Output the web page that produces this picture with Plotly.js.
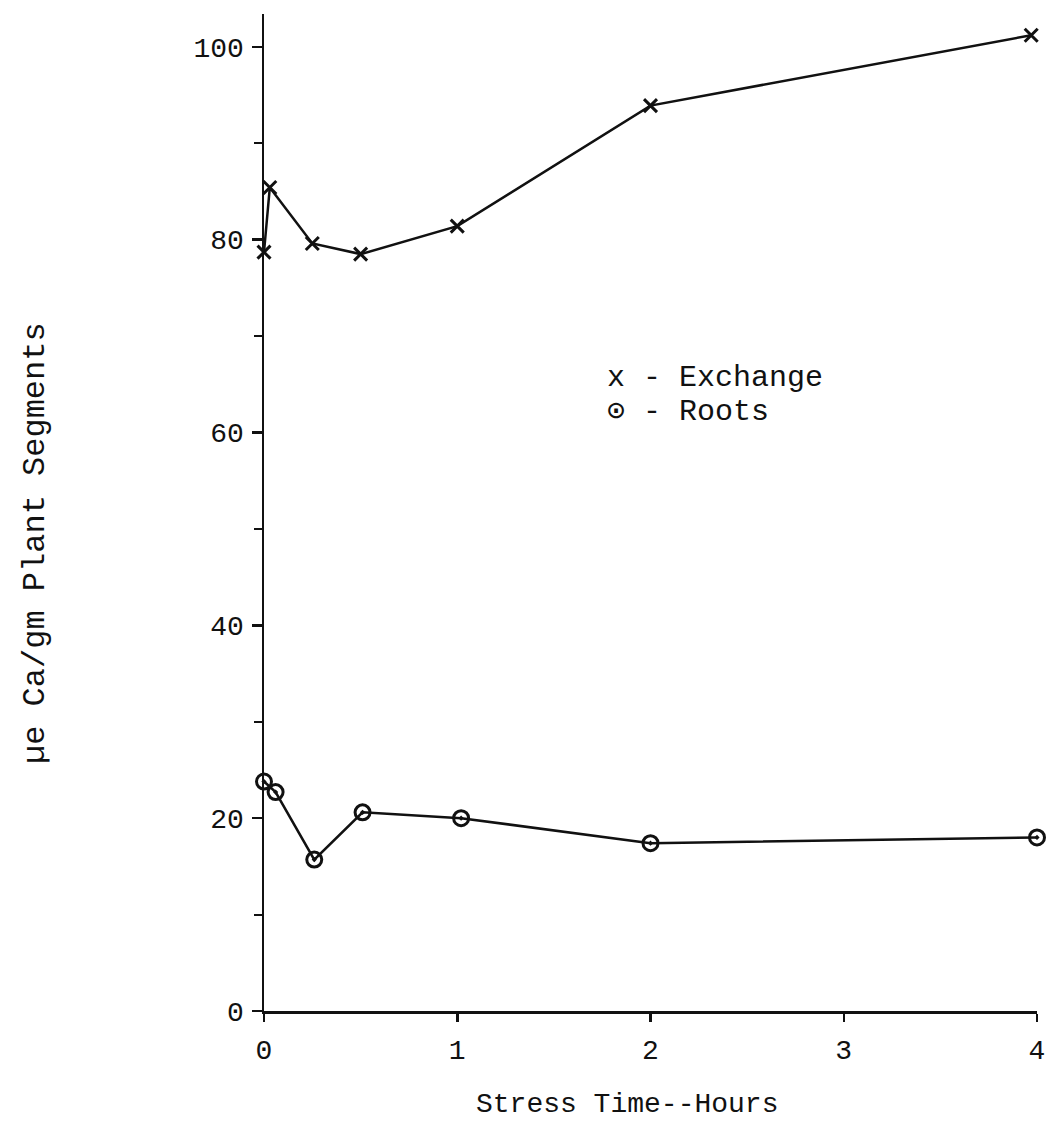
<!DOCTYPE html>
<html>
<head>
<meta charset="utf-8">
<script src="https://cdn.plot.ly/plotly-3.0.1.min.js"></script>
<style>html,body{margin:0;padding:0;background:#fff;}#chart{width:1052px;height:1132px;}</style>
</head>
<body>
<div id="chart"></div>
<script>
// Data
const exchangeHours = [0.0, 0.03, 0.25, 0.5, 1.0, 2.0, 3.97];
const exchangeCa    = [78.7, 85.4, 79.6, 78.5, 81.4, 93.9, 101.2];
const rootsHours    = [0.0, 0.06, 0.26, 0.51, 1.02, 2.0, 4.0];
const rootsCa       = [23.8, 22.7, 15.7, 20.6, 20.0, 17.4, 18.0];
const xTickVals = [0, 1, 2, 3, 4];
const xTickText = ['0', '1', '2', '3', '4'];
const yTickVals = [0, 20, 40, 60, 80, 100];
const yTickText = ['0', '20', '40', '60', '80', '100'];

const mono = 'Liberation Mono, Courier New, monospace';

const traces = [
  {
    x: exchangeHours, y: exchangeCa, mode: 'lines+markers', name: 'Exchange',
    line: {color: '#111', width: 2.5},
    marker: {symbol: 'x-thin-open', size: 13, color: '#111', line: {color: '#111', width: 3}},
    cliponaxis: false
  },
  {
    x: rootsHours, y: rootsCa, mode: 'lines+markers', name: 'Roots',
    line: {color: '#111', width: 2.5},
    marker: {symbol: 'circle-open-dot', size: 15, color: '#111', line: {color: '#111', width: 3}},
    cliponaxis: false
  }
];

const L = 264, R = 15, T = 14, B = 121;
const plotW = 1052 - L - R, plotH = 1132 - T - B;
const px2x = p => (p - L) / plotW;          // pixel -> paper x
const py2y = p => (1132 - B - p) / plotH;   // pixel -> paper y

const layout = {
  width: 1052, height: 1132,
  margin: {l: L, r: R, t: T, b: B},
  paper_bgcolor: '#fff', plot_bgcolor: '#fff',
  showlegend: false,
  font: {family: mono, color: '#111'},
  xaxis: {
    range: [0, 4], tickvals: xTickVals, ticktext: xTickText,
    showgrid: false, zeroline: false, showline: true, linecolor: '#111', linewidth: 2.5,
    ticks: 'outside', ticklen: 8, tickwidth: 2.5, tickcolor: '#111',
    ticklabelstandoff: 4,
    tickfont: {family: mono, size: 28, color: '#111'},
    title: {text: ''}
  },
  yaxis: {
    range: [0, 103.4], tickvals: yTickVals, ticktext: yTickText,
    showgrid: false, zeroline: false, showline: true, linecolor: '#111', linewidth: 2.5,
    ticks: 'outside', ticklen: 10, tickwidth: 2.5, tickcolor: '#111',
    ticklabelstandoff: 2,
    tickfont: {family: mono, size: 28, color: '#111'},
    minor: {tickvals: [10, 30, 50, 70, 90], ticks: 'outside', ticklen: 8, tickwidth: 2, tickcolor: '#111', showgrid: false},
    title: {text: ''}
  },
  annotations: [
    {text: 'x - Exchange', xref: 'paper', yref: 'paper', x: px2x(606), y: py2y(378),
     xanchor: 'left', yanchor: 'middle', showarrow: false, height: 34, borderpad: 0,
     font: {family: mono, size: 30, color: '#111'}},
    {text: '\u2299 - Roots', xref: 'paper', yref: 'paper', x: px2x(606), y: py2y(412),
     xanchor: 'left', yanchor: 'middle', showarrow: false, height: 34, borderpad: 0,
     font: {family: mono, size: 30, color: '#111'}},
    {text: '\u00b5e Ca/gm Plant Segments', xref: 'paper', yref: 'paper', x: px2x(35), y: py2y(543),
     xanchor: 'center', yanchor: 'middle', showarrow: false, textangle: -90,
     font: {family: mono, size: 32, color: '#111'}},
    {text: 'Stress Time--Hours', xref: 'paper', yref: 'paper', x: px2x(627), y: py2y(1104),
     xanchor: 'center', yanchor: 'middle', showarrow: false,
     font: {family: mono, size: 28, color: '#111'}}
  ]
};

Plotly.newPlot('chart', traces, layout, {displayModeBar: false, staticPlot: true});
</script>
</body>
</html>
